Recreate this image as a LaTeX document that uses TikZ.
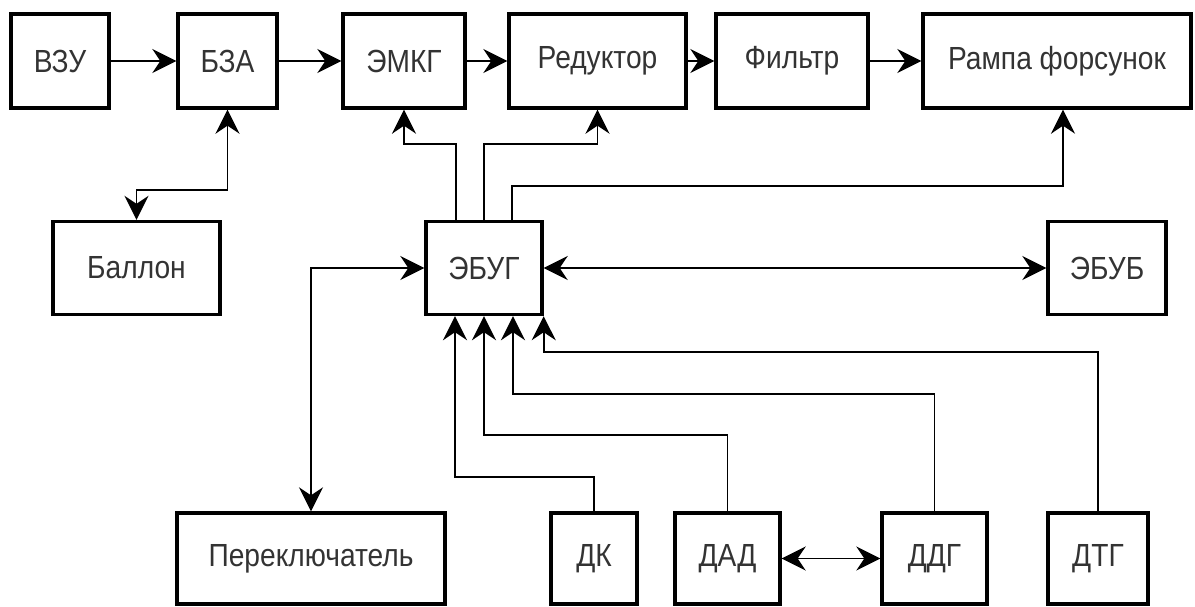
\documentclass[tikz,border=0pt]{standalone}
\usepackage{fontspec}
\setmainfont[FakeStretch=0.88]{Liberation Sans}
\usepackage{tikz}
\usetikzlibrary{arrows.meta}

\begin{document}
\begin{tikzpicture}[x=1pt, y=-1pt,
    blok/.style={draw, line width=3.4pt, minimum width=#1, inner sep=0pt,
        font=\fontsize{32}{36}\selectfont, text=black!80},
    top/.style={blok=#1, minimum height=94pt},
    mid/.style={blok=#1, minimum height=93pt},
    bot/.style={blok=#1, minimum height=91pt},
    arr/.style={line width=1.9pt, -{Stealth[length=24pt, width=24pt, inset=8pt]}},
    dbl/.style={line width=1.9pt, {Stealth[length=24pt, width=24pt, inset=8pt]}-{Stealth[length=24pt, width=24pt, inset=8pt]}}]
    \useasboundingbox (0, 0) rectangle (1195, 606);
    \node[top=98] (vzu) at (60, 61) {ВЗУ};
    \node[top=99] (bza) at (227.5, 61) {БЗА};
    \node[top=122] (emkg) at (404, 61) {ЭМКГ};
    \node[top=177] (red) at (597.5, 61) {Редуктор};
    \node[top=152] (filtr) at (792, 61) {Фильтр};
    \node[top=268] (rampa) at (1057, 61) {Рампа форсунок};
    \node[mid=167] (ballon) at (136.5, 268) {Баллон};
    \node[mid=116] (ebug) at (484, 268) {ЭБУГ};
    \node[mid=118] (ebub) at (1107, 268) {ЭБУБ};
    \node[bot=268] (perekl) at (311, 558.5) {Переключатель};
    \node[bot=86] (dk) at (594, 558.5) {ДК};
    \node[bot=105] (dad) at (727.5, 558.5) {ДАД};
    \node[bot=105] (ddg) at (934.5, 558.5) {ДДГ};
    \node[bot=100] (dtg) at (1098, 558.5) {ДТГ};
    \draw[arr] (vzu) -- (bza);
    \draw[arr] (bza) -- (emkg);
    \draw[arr] (emkg) -- (red);
    \draw[arr] (red) -- (filtr);
    \draw[arr] (filtr) -- (rampa);
    \draw[dbl] (bza.south) -- ++(0, 80) -| (ballon.north);
    \draw[arr] ([xshift=-28pt]ebug.north) -- ++(0, -76) -| (emkg.south);
    \draw[arr] (ebug.north) -- ++(0, -76) -| (red.south);
    \draw[arr] ([xshift=28pt]ebug.north) -- ++(0, -34) -| ([xshift=6pt]rampa.south);
    \draw[dbl] (ebug.west) -| (perekl.north);
    \draw[dbl] (ebug) -- (ebub);
    \draw[arr] (dk.north) -- ++(0, -34) -| ([xshift=-29pt]ebug.south);
    \draw[arr] (dad.north) -- ++(0, -76) -| (ebug.south);
    \draw[arr] (ddg.north) -- ++(0, -117) -| ([xshift=29pt]ebug.south);
    \draw[arr] (dtg.north) -- ++(0, -159) -| (ebug.south east);
    \draw[dbl] (dad) -- (ddg);
\end{tikzpicture}
\end{document}
